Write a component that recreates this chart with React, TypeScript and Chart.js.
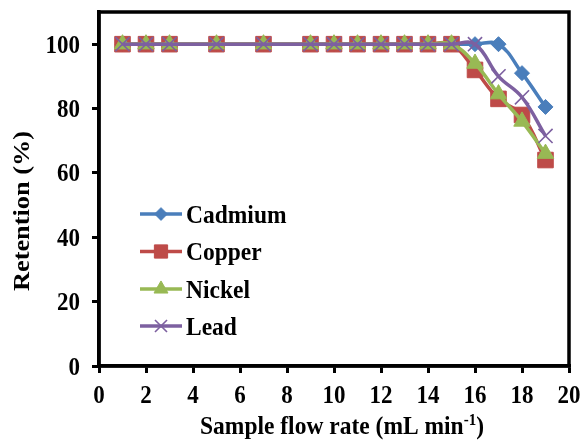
import React, { useEffect, useRef } from "react";
import { Chart, registerables } from "chart.js";
import { drawPoint } from "chart.js/helpers";

Chart.register(...registerables);

const flowRates = [1, 2, 3, 5, 7, 9, 10, 11, 12, 13, 14, 15, 16, 17, 18, 19];
const cadmium = [100, 100, 100, 100, 100, 100, 100, 100, 100, 100, 100, 100, 100, 100, 91, 80.5];
const copper = [100, 100, 100, 100, 100, 100, 100, 100, 100, 100, 100, 100, 92, 83, 78, 64];
const nickel = [100, 100, 100, 100, 100, 100, 100, 100, 100, 100, 100, 100, 94, 84.5, 76, 66];
const lead = [100, 100, 100, 100, 100, 100, 100, 100, 100, 100, 100, 100, 100, 90, 83.5, 71.5];

const seriesNames = ["Cadmium", "Copper", "Nickel", "Lead"];
const seriesColors = ["#4A7EBB", "#BE4B48", "#98B954", "#7D60A0"];
const yTickValues = [0, 20, 40, 60, 80, 100];
const xTickValues = [0, 2, 4, 6, 8, 10, 12, 14, 16, 18, 20];

const xTitle = "Sample flow rate (mL min";
const xTitleSup = "-1";
const yTitle = "Retention (%)";

const FONT = "'Liberation Serif', 'Times New Roman', serif";

export default function App() {
  const ref = useRef<HTMLCanvasElement>(null);

  useEffect(() => {
    document.body.style.margin = "0";
    const canvas = ref.current!;
    const seriesData = [cadmium, copper, nickel, lead];
    const styles = [
      { pointStyle: "rectRot", radius: 7.5, borderWidth: 1 },
      { pointStyle: "rect", radius: 11, borderWidth: 1 },
      { pointStyle: "triangle", radius: 9.5, borderWidth: 1 },
      { pointStyle: "crossRot", radius: 10, borderWidth: 1.6 },
    ];
    const datasets = seriesData.map((vals, i) => ({
      label: seriesNames[i],
      data: vals.map((v, j) => ({ x: flowRates[j], y: v })),
      borderColor: seriesColors[i],
      backgroundColor: seriesColors[i],
      borderWidth: 3.5,
      tension: 0.4,
      pointStyle: styles[i].pointStyle,
      pointRadius: styles[i].radius,
      pointBorderWidth: styles[i].borderWidth,
      pointBackgroundColor: seriesColors[i],
      pointBorderColor: seriesColors[i],
      order: 4 - i,
    }));

    const overlay = {
      id: "overlay",
      afterDraw(chart: any) {
        const ctx = chart.ctx;
        const a = chart.chartArea;
        const xs = chart.scales.x;
        const ys = chart.scales.y;
        ctx.save();
        // frame
        ctx.strokeStyle = "#000";
        ctx.lineWidth = 3.5;
        ctx.strokeRect(a.left, a.top, a.right - a.left, a.bottom - a.top);

        // tick labels (slightly stretched vertically like the reference)
        ctx.fillStyle = "#000";
        ctx.font = `bold 23px ${FONT}`;
        ctx.textBaseline = "alphabetic";
        ctx.textAlign = "right";
        for (const v of yTickValues) {
          const py = ys.getPixelForValue(v);
          ctx.save();
          ctx.translate(80, py + 8.5);
          ctx.scale(1, 1.1);
          ctx.fillText(String(v), 0, 0);
          ctx.restore();
        }
        ctx.textAlign = "center";
        for (const v of xTickValues) {
          const px = xs.getPixelForValue(v);
          ctx.save();
          ctx.translate(px, 403);
          ctx.scale(1, 1.1);
          ctx.fillText(String(v), 0, 0);
          ctx.restore();
        }

        // legend
        const rowY = [214, 251.5, 289, 326];
        for (let i = 0; i < 4; i++) {
          const y = rowY[i];
          ctx.strokeStyle = seriesColors[i];
          ctx.lineWidth = 3.5;
          ctx.beginPath();
          ctx.moveTo(140, y);
          ctx.lineTo(182, y);
          ctx.stroke();
          ctx.fillStyle = seriesColors[i];
          ctx.strokeStyle = seriesColors[i];
          ctx.lineWidth = styles[i].borderWidth;
          drawPoint(ctx, { pointStyle: styles[i].pointStyle, radius: styles[i].radius * 0.85, borderWidth: styles[i].borderWidth, rotation: 0 } as any, 161, y);
          ctx.fillStyle = "#000";
          ctx.save();
          ctx.translate(186, y + 8.5);
          ctx.scale(1, 1.1);
          ctx.font = `bold 23.5px ${FONT}`;
          ctx.textAlign = "left";
          ctx.textBaseline = "alphabetic";
          ctx.fillText(seriesNames[i], 0, 0);
          ctx.restore();
        }

        // x title
        ctx.fillStyle = "#000";
        ctx.save();
        ctx.translate(0, 434);
        ctx.scale(1, 1.1);
        ctx.font = `bold 23.5px ${FONT}`;
        const w1 = ctx.measureText(xTitle).width;
        ctx.font = `bold 15px ${FONT}`;
        const w2 = ctx.measureText(xTitleSup).width;
        ctx.font = `bold 23.5px ${FONT}`;
        const w3 = ctx.measureText(")").width;
        const total = w1 + w2 + w3;
        let x = 342 - total / 2;
        ctx.textAlign = "left";
        ctx.textBaseline = "alphabetic";
        ctx.fillText(xTitle, x, 0);
        x += w1;
        ctx.font = `bold 15px ${FONT}`;
        ctx.fillText(xTitleSup, x, -8);
        x += w2;
        ctx.font = `bold 23.5px ${FONT}`;
        ctx.fillText(")", x, 0);
        ctx.restore();

        // y title
        ctx.save();
        ctx.translate(23, 211);
        ctx.rotate(-Math.PI / 2);
        ctx.scale(1.12, 1);
        ctx.font = `bold 23.5px ${FONT}`;
        ctx.textAlign = "center";
        ctx.textBaseline = "middle";
        ctx.fillText(yTitle, 0, 0);
        ctx.restore();

        ctx.restore();
      },
    };

    const chart = new Chart(canvas, {
      type: "line",
      data: { datasets: datasets as any },
      options: {
        animation: false,
        responsive: false,
        devicePixelRatio: 1,
        layout: { padding: { top: 12, right: 15, left: 0, bottom: 0 } },
        plugins: { legend: { display: false }, tooltip: { enabled: false } },
        scales: {
          x: {
            type: "linear",
            min: 0,
            max: 20,
            afterBuildTicks(s: any) { s.ticks = xTickValues.map((v) => ({ value: v })); },
            ticks: { display: false },
            grid: { display: true, drawOnChartArea: false, drawTicks: true, tickLength: 7, lineWidth: 3, color: "#000" },
            border: { display: true, color: "#000", width: 3.5 },
            afterFit(s: any) { s.height = 75; s.paddingLeft = 0; s.paddingRight = 0; },
          },
          y: {
            type: "linear",
            min: 0,
            max: 110,
            afterBuildTicks(s: any) { s.ticks = yTickValues.map((v) => ({ value: v })); },
            ticks: { display: false },
            grid: { display: true, drawOnChartArea: false, drawTicks: true, tickLength: 7, lineWidth: 3, color: "#000" },
            border: { display: true, color: "#000", width: 3.5 },
            afterFit(s: any) { s.width = 99; s.paddingTop = 0; s.paddingBottom = 0; },
          },
        },
      },
      plugins: [overlay],
    });
    return () => chart.destroy();
  }, []);

  return <canvas ref={ref} width={584} height={441} style={{ display: "block" }} />;
}
